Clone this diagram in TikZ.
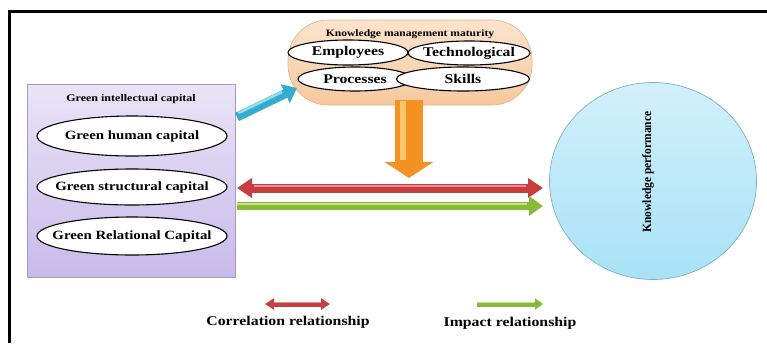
\documentclass[tikz,border=0pt]{standalone}
\usepackage{fontspec}
\setmainfont{Liberation Serif}[FakeStretch=1.18]
\usetikzlibrary{shapes.geometric,arrows.meta,calc}
\definecolor{purpTop}{RGB}{234,228,246}
\definecolor{purpBot}{RGB}{200,186,234}
\definecolor{purpEdge}{RGB}{165,150,205}
\definecolor{peachTop}{RGB}{251,228,205}
\definecolor{peachBot}{RGB}{246,200,158}
\definecolor{peachEdge}{RGB}{225,175,130}
\definecolor{skyTop}{RGB}{210,240,251}
\definecolor{skyBot}{RGB}{168,226,246}
\definecolor{skyEdge}{RGB}{125,175,195}
\definecolor{redA}{RGB}{200,62,62}
\definecolor{redL}{RGB}{236,140,140}
\definecolor{greenA}{RGB}{136,186,58}
\definecolor{greenL}{RGB}{196,226,140}
\definecolor{orangeA}{RGB}{244,146,36}
\definecolor{orangeL}{RGB}{252,196,110}
\definecolor{blueA}{RGB}{52,172,206}
\definecolor{blueL}{RGB}{150,222,238}
\tikzset{
  x=1pt, y=-1pt,
  oval/.style={ellipse, draw=black, line width=1.1pt, fill=white, inner sep=0pt,
     label={[font=\bfseries\fontsize{12.6}{14}\selectfont]center:#1}},
  smalloval/.style={ellipse, draw=black, line width=1.1pt, fill=white, inner sep=0pt,
     label={[font=\bfseries\fontsize{13.3}{14}\selectfont]center:#1}},
  lbl/.style={font=\bfseries\fontsize{13.4}{15}\selectfont},
}
\begin{document}
\begin{tikzpicture}
\useasboundingbox (0,0) rectangle (767,343);
% frame
\draw[line width=3pt] (9.5,343) -- (9.5,11.5) -- (767,11.5);

% green intellectual capital box
\node[draw=purpEdge, line width=0.8pt, top color=purpTop, bottom color=purpBot,
      minimum width=208pt, minimum height=193pt, inner sep=0pt] (gic) at (131,180.5) {};
\node[font=\bfseries\fontsize{10.2}{12}\selectfont] (gict) at (131,99) {Green intellectual capital};
\node[oval={Green human capital}, minimum width=190pt, minimum height=40pt] (ghc) at (132,136) {};
\node[oval={Green structural capital}, minimum width=190pt, minimum height=36pt] (gsc) at (132,187) {};
\node[oval={Green Relational Capital}, minimum width=190pt, minimum height=38pt] (grc) at (132,236) {};

% knowledge management maturity
\node[draw=peachEdge, line width=0.6pt, top color=peachTop, bottom color=peachBot,
      rounded corners=40pt, minimum width=244pt, minimum height=85pt, inner sep=0pt] (kmm) at (410,62.5) {};
\node[font=\bfseries\fontsize{9.8}{11}\selectfont] (kmmt) at (410,34) {Knowledge management maturity};
\node[smalloval={Employees}, minimum width=120pt, minimum height=25pt] (emp) at (348,52.5) {};
\node[smalloval={Technological}, minimum width=122pt, minimum height=24pt] (tec) at (469,53) {};
\node[smalloval={Processes}, minimum width=114pt, minimum height=24pt] (pro) at (355,79) {};
\node[smalloval={Skills}, minimum width=133pt, minimum height=24pt] (ski) at (463,79) {};

% knowledge performance
\node[ellipse, draw=skyEdge, line width=0.7pt, top color=skyTop, bottom color=skyBot,
      minimum width=207pt, minimum height=197pt, inner sep=0pt] (kp) at (653,181) {};
\node[rotate=90, font=\bfseries\fontsize{12.5}{14}\selectfont] (kpt) at (648,172) {\scalebox{0.78}[1]{Knowledge performance}};

% blue arrow
\coordinate (b1) at (237,117);
\coordinate (b2) at (297,88);
\draw[blueA, line width=9pt, -{Triangle[width=20pt,length=13pt]}] (b1) -- (b2);
\draw[blueL, line width=2.5pt] ($(b1)!0.05!(b2)+(-1.5,-2.5)$) -- ($(b1)!0.78!(b2)+(-1.5,-2.5)$);

% orange arrow
\coordinate (o1) at (409,100);
\coordinate (o2) at (409,178);
\draw[orangeA, line width=28pt, -{Triangle[width=48pt,length=16pt]}] (o1) -- (o2);
\draw[orangeL, line width=6pt] (403,101) -- (403,160);

% red double arrow
\coordinate (r1) at (237,188);
\coordinate (r2) at (543,188);
\draw[redA, line width=9pt, {Triangle[width=19pt,length=15pt]}-{Triangle[width=19pt,length=15pt]}] (r1) -- (r2);
\draw[redL, line width=2pt] (254,185.5) -- (526,185.5);

% green arrow
\coordinate (g1) at (237,206);
\coordinate (g2) at (543,206);
\draw[greenA, line width=8.5pt, -{Triangle[width=19pt,length=14pt]}] (g1) -- (g2);
\draw[greenL, line width=2pt] (237,203.5) -- (527,203.5);

% legend
\coordinate (lr1) at (265,304);
\coordinate (lr2) at (330,304);
\draw[redA, line width=5pt, {Triangle[width=11pt,length=9pt]}-{Triangle[width=11pt,length=9pt]}] (lr1) -- (lr2);
\draw[redL, line width=1.2pt] (274,302.5) -- (321,302.5);
\node[lbl] (lrt) at (288,322) {Correlation relationship};

\coordinate (lg1) at (477,304);
\coordinate (lg2) at (543,304);
\draw[greenA, line width=5pt, -{Triangle[width=11pt,length=8pt]}] (lg1) -- (lg2);
\draw[greenL, line width=1.2pt] (477,302.5) -- (534,302.5);
\node[lbl] (lgt) at (510,323) {Impact relationship};
\end{tikzpicture}
\end{document}
